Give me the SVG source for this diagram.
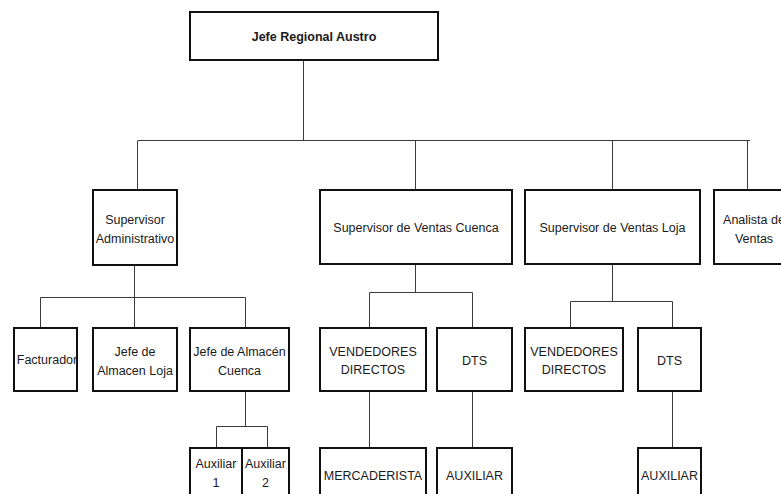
<svg xmlns="http://www.w3.org/2000/svg" width="781" height="494" viewBox="0 0 781 494">
  <style>
    .box { fill: #fff; stroke: #111; stroke-width: 2; }
    .lbl { font-family: "Liberation Sans", Arial, sans-serif; font-size: 12.5px; fill: #1a1a1a; text-anchor: middle; }
    .bold { font-weight: bold; }
    .con { stroke: #3a3a3a; stroke-width: 1; fill: none; }
  </style>
  <rect width="781" height="494" fill="#fff"/>

  <!-- connectors -->
  <g id="connectors">
    <path class="con" d="M303.5 60 V140.5 M138 140.5 H750 M137.5 140.5 V190 M415.5 140.5 V190 M612.5 140.5 V190 M747.5 140.5 V190"/>
    <path class="con" d="M134.5 265 V297.5 M40.5 297.5 H245.5 M40.5 297.5 V328 M134.5 297.5 V328 M245.5 297.5 V328"/>
    <path class="con" d="M245.5 391 V426.5 M216.5 426.5 H267.5 M216.5 426.5 V448 M267.5 426.5 V448"/>
    <path class="con" d="M415.5 264 V292.5 M369.5 292.5 H472.5 M369.5 292.5 V328 M472.5 292.5 V328 M369.5 391 V448 M472.5 391 V448"/>
    <path class="con" d="M612.5 264 V301.5 M570.5 301.5 H672.5 M570.5 301.5 V328 M672.5 301.5 V328 M672.5 391 V448"/>
  </g>

  <g id="jefe-regional">
    <rect class="box" x="190" y="12" width="248" height="48"/>
    <text class="lbl bold" x="314" y="41">Jefe Regional Austro</text>
  </g>

  <g id="supervisor-administrativo">
    <rect class="box" x="93" y="190" width="84" height="75"/>
    <text class="lbl" x="135" y="224">Supervisor</text>
    <text class="lbl" x="135" y="243">Administrativo</text>
  </g>

  <g id="supervisor-ventas-cuenca">
    <rect class="box" x="320" y="190" width="192" height="74"/>
    <text class="lbl" x="416" y="232">Supervisor de Ventas Cuenca</text>
  </g>

  <g id="supervisor-ventas-loja">
    <rect class="box" x="525" y="190" width="175" height="74"/>
    <text class="lbl" x="612.5" y="232">Supervisor de Ventas Loja</text>
  </g>

  <g id="analista-ventas">
    <rect class="box" x="714" y="190" width="80" height="74"/>
    <text class="lbl" x="754" y="224">Analista de</text>
    <text class="lbl" x="754" y="243">Ventas</text>
  </g>

  <g id="facturador">
    <rect class="box" x="14" y="328" width="63" height="63"/>
    <text class="lbl" x="47" y="364">Facturador</text>
  </g>

  <g id="jefe-almacen-loja">
    <rect class="box" x="93" y="328" width="84" height="63"/>
    <text class="lbl" x="135" y="356">Jefe de</text>
    <text class="lbl" x="135" y="375">Almacen Loja</text>
  </g>

  <g id="jefe-almacen-cuenca">
    <rect class="box" x="190" y="328" width="99" height="63"/>
    <text class="lbl" x="239.5" y="356">Jefe de Almacén</text>
    <text class="lbl" x="239.5" y="375">Cuenca</text>
  </g>

  <g id="vendedores-cuenca">
    <rect class="box" x="320" y="328" width="106" height="63"/>
    <text class="lbl" x="373" y="356">VENDEDORES</text>
    <text class="lbl" x="373" y="374">DIRECTOS</text>
  </g>

  <g id="dts-cuenca">
    <rect class="box" x="437" y="328" width="75" height="63"/>
    <text class="lbl" x="474.5" y="365">DTS</text>
  </g>

  <g id="vendedores-loja">
    <rect class="box" x="525" y="328" width="98" height="63"/>
    <text class="lbl" x="574" y="356">VENDEDORES</text>
    <text class="lbl" x="574" y="374">DIRECTOS</text>
  </g>

  <g id="dts-loja">
    <rect class="box" x="638" y="328" width="63" height="63"/>
    <text class="lbl" x="669.5" y="365">DTS</text>
  </g>

  <g id="auxiliar-1">
    <rect class="box" x="190" y="448" width="52" height="52"/>
    <text class="lbl" x="216" y="468">Auxiliar</text>
    <text class="lbl" x="216" y="487">1</text>
  </g>

  <g id="auxiliar-2">
    <rect class="box" x="242" y="448" width="47" height="52"/>
    <text class="lbl" x="265.5" y="468">Auxiliar</text>
    <text class="lbl" x="265.5" y="487">2</text>
  </g>

  <g id="mercaderista">
    <rect class="box" x="320" y="448" width="106" height="52"/>
    <text class="lbl" x="373" y="480">MERCADERISTA</text>
  </g>

  <g id="auxiliar-cuenca">
    <rect class="box" x="437" y="448" width="75" height="52"/>
    <text class="lbl" x="474.5" y="480">AUXILIAR</text>
  </g>

  <g id="auxiliar-loja">
    <rect class="box" x="638" y="448" width="63" height="52"/>
    <text class="lbl" x="669.5" y="480">AUXILIAR</text>
  </g>
</svg>
